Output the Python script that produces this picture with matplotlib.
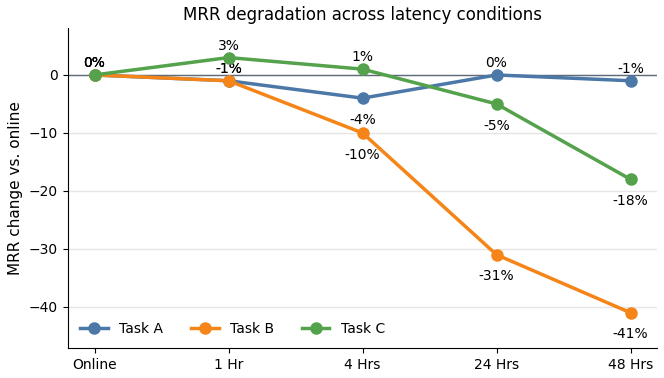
import matplotlib.pyplot as plt

conditions = ["Online", "1 Hr", "4 Hrs", "24 Hrs", "48 Hrs"]
task_a = [0, -1, -4, 0, -1]
task_b = [0, -1, -10, -31, -41]
task_c = [0, 3, 1, -5, -18]

series = [("Task A", task_a, "#4c78a8"),
          ("Task B", task_b, "#f58518"),
          ("Task C", task_c, "#54a24b")]

fig, ax = plt.subplots(figsize=(6.64, 3.78), dpi=100)
fig.subplots_adjust(left=0.102, right=0.99, top=0.926, bottom=0.079)

ax.axhline(0, color="#5f6b7a", lw=1.0, zorder=1)
x = list(range(len(conditions)))
for name, vals, col in series:
    ax.plot(x, vals, marker="o", ms=8, lw=2.5, color=col, label=name, zorder=3)
    for xi, v in zip(x, vals):
        # small drops get the label above the point, bigger ones below
        if v > -2:
            ax.annotate(f"{v}%", (xi, v), xytext=(0, 3.5), textcoords="offset points",
                        ha="center", va="bottom", fontsize=10)
        else:
            ax.annotate(f"{v}%", (xi, v), xytext=(0, -10.5), textcoords="offset points",
                        ha="center", va="top", fontsize=10)

ax.set_xticks(x)
ax.set_xticklabels(conditions)
ax.set_xlim(-0.2, 4.2)
ax.set_ylim(-47.1, 8.1)
ax.set_yticks([0, -10, -20, -30, -40])
ax.yaxis.grid(True, color="#e5e5e5", lw=1)
ax.set_axisbelow(True)
ax.spines["top"].set_visible(False)
ax.spines["right"].set_visible(False)
ax.set_ylabel("MRR change vs. online", fontsize=11)
ax.set_title("MRR degradation across latency conditions", fontsize=12)
ax.legend(loc="lower left", ncol=3, frameon=False, fontsize=10)

fig.savefig("out.png")
